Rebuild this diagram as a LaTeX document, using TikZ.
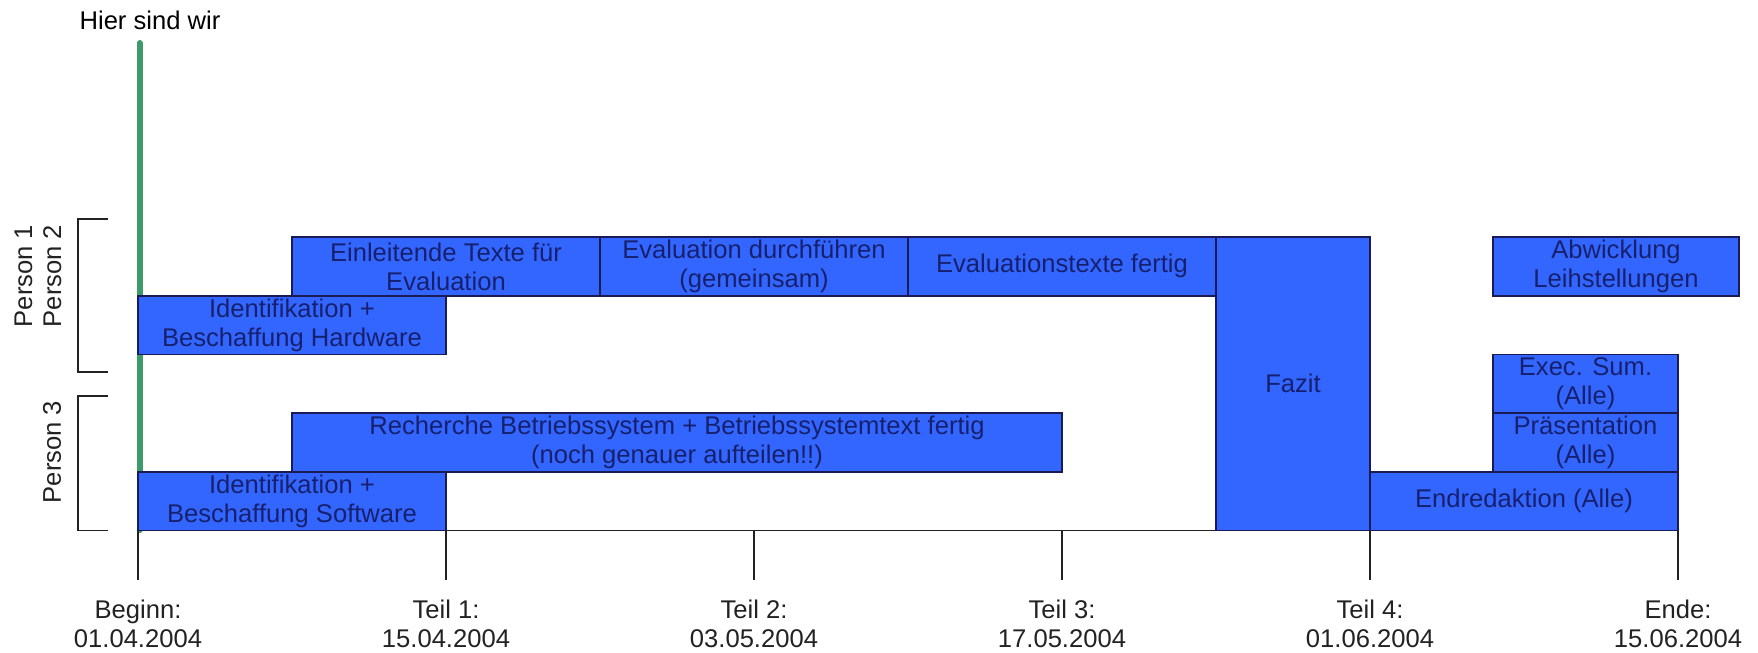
\documentclass[tikz,border=0pt]{standalone}
\usepackage{fontspec}
\setmainfont{Liberation Sans}
\definecolor{boxfill}{HTML}{3366FF}
\definecolor{boxline}{HTML}{1A1A55}
\definecolor{boxtext}{HTML}{16206E}
\definecolor{nowgreen}{HTML}{3C9B69}
\definecolor{axisgray}{HTML}{222222}
\newcommand\taskfont{\fontsize{12.8}{14.5}\selectfont}
\tikzset{
  taskbox/.style={draw=boxline, line width=0.8pt, fill=boxfill, text=boxtext,
    align=center, inner sep=0pt, font=\taskfont},
  axisline/.style={draw=axisgray, line width=0.6pt},
  bracketline/.style={draw=axisgray, line width=0.7pt},
  axislabel/.style={align=center, text=axisgray, font=\taskfont, inner sep=0pt},
}
% name, x1, y1, x2, y2, text  (pixel coordinates, y downwards)
\newcommand\taskrect[6]{\node[taskbox, minimum width={(#4-#2)*0.5pt},
  minimum height={(#5-#3)*0.5pt}] (#1) at ({(#2+#4)/2},{(#3+#5)/2}) {#6};}
\begin{document}
\begin{tikzpicture}[x=0.5pt,y=-0.5pt]
\useasboundingbox (0,0) rectangle (1758,653);

% "now" marker
\node[font=\taskfont, text=black, inner sep=0pt] (now) at (150,20) {Hier sind wir};
\coordinate (g1) at (139.5,43);
\coordinate (g2) at (139.5,530);
\draw[nowgreen, line width=3pt, line cap=round] (g1) -- (g2);

% person brackets
\coordinate (b1a) at (108,219); \coordinate (b1b) at (78,219);
\coordinate (b1c) at (78,372);  \coordinate (b1d) at (108,372);
\draw[bracketline] (b1a) -- (b1b) -- (b1c) -- (b1d);
\coordinate (b2a) at (108,396); \coordinate (b2b) at (78,396);
\coordinate (b2c) at (78,530.5);  \coordinate (b2d) at (108,530.5);
\draw[bracketline] (b2a) -- (b2b) -- (b2c) -- (b2d);
\node[rotate=90, align=center, font=\taskfont, text=axisgray, inner sep=0pt] (p12) at (38,276) {Person 1\\Person 2};
\node[rotate=90, font=\taskfont, text=axisgray, inner sep=0pt] (p3) at (52,452) {Person 3};

% time axis
\coordinate (t0top) at (138,530.5);  \coordinate (t0bot) at (138,579.7);
\coordinate (t1top) at (446,530.5);  \coordinate (t1bot) at (446,579.7);
\coordinate (t2top) at (754,530.5);  \coordinate (t2bot) at (754,579.7);
\coordinate (t3top) at (1062,530.5); \coordinate (t3bot) at (1062,579.7);
\coordinate (t4top) at (1370,530.5); \coordinate (t4bot) at (1370,579.7);
\coordinate (t5top) at (1678,530.5); \coordinate (t5bot) at (1678,579.7);
\draw[axisline] (t0top) -- (t5top);
\foreach \i in {0,...,5} {\draw[axisline] (t\i top) -- (t\i bot);}
\node[axislabel] (l0) at (138,624)  {Beginn:\\01.04.2004};
\node[axislabel] (l1) at (446,624)  {Teil 1:\\15.04.2004};
\node[axislabel] (l2) at (754,624)  {Teil 2:\\03.05.2004};
\node[axislabel] (l3) at (1062,624) {Teil 3:\\17.05.2004};
\node[axislabel] (l4) at (1370,624) {Teil 4:\\01.06.2004};
\node[axislabel] (l5) at (1678,624) {Ende:\\15.06.2004};

% tasks
\taskrect{einl}{292}{237}{600}{295.7}{Einleitende Texte f\"ur\\Evaluation}
\taskrect{evald}{600}{237}{908}{295.7}{Evaluation durchf\"uhren\\(gemeinsam)}
\taskrect{evalt}{908}{237}{1216}{295.7}{Evaluationstexte fertig}
\taskrect{hw}{138}{295.7}{446}{354.4}{Identifikation +\\Beschaffung Hardware}
\taskrect{fazit}{1216}{237}{1370}{530.5}{Fazit}
\taskrect{abw}{1493}{237}{1739}{295.7}{Abwicklung\\Leihstellungen}
\taskrect{exec}{1493}{354.4}{1678}{413.1}{Exec. Sum.\\(Alle)}
\taskrect{praes}{1493}{413.1}{1678}{471.8}{Pr\"asentation\\(Alle)}
\taskrect{endr}{1370}{471.8}{1678}{530.5}{Endredaktion (Alle)}
\taskrect{rech}{292}{413.1}{1062}{471.8}{Recherche Betriebssystem + Betriebssystemtext fertig\\(noch genauer aufteilen!!)}
\taskrect{sw}{138}{471.8}{446}{530.5}{Identifikation +\\Beschaffung Software}
\end{tikzpicture}
\end{document}
